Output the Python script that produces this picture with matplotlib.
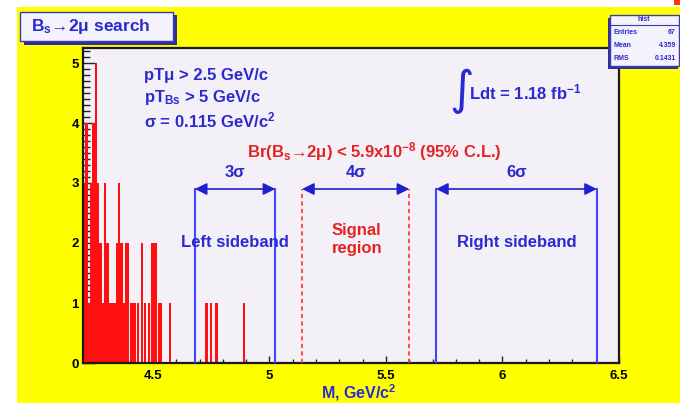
import matplotlib
matplotlib.use('Agg')
import matplotlib.pyplot as plt
from matplotlib.patches import Rectangle
from matplotlib.lines import Line2D
from matplotlib.ticker import MultipleLocator, FuncFormatter

plt.rcParams['font.family'] = ['Liberation Sans', 'DejaVu Sans']
plt.rcParams['mathtext.default'] = 'regular'

# dimuon candidates, 0.01 GeV/c^2 bins (bin centres and entries)
mass_centers = [4.205, 4.215, 4.225, 4.235, 4.245, 4.255, 4.265, 4.275, 4.285, 4.295,
                4.305, 4.315, 4.325, 4.335, 4.345, 4.355, 4.365, 4.375, 4.385, 4.395,
                4.405, 4.415, 4.425, 4.435, 4.455, 4.465, 4.485, 4.495, 4.505, 4.515,
                4.525, 4.535, 4.575, 4.730, 4.751, 4.773, 4.892]
entries = [3, 4, 1, 3, 4, 5, 3, 2, 1, 3,
           2, 1, 1, 1, 2, 3, 2, 1, 2, 2,
           1, 1, 1, 1, 2, 1, 1, 2, 2, 2,
           1, 1, 1, 1, 1, 1, 1]

# mass windows (GeV/c^2)
left_sideband = [4.68, 5.025]
signal_region = [5.14, 5.60]
right_sideband = [5.715, 6.405]
window_widths = ['3σ', '4σ', '6σ']
window_top = 2.9

stats_rows = [('Entries', '67'), ('Mean', '4.359'), ('RMS', '0.1431')]

W, H = 680, 403
BLUE = '#2a2ad0'
LINE_BLUE = '#4444ff'
RED = '#e62222'
FS = 12


def fx(px):
    return px / W


def fy(py):
    return 1 - py / H


fig = plt.figure(figsize=(W / 100, H / 100), dpi=100, facecolor='white')

# yellow canvas
fig.add_artist(Rectangle((fx(17), 0), fx(W - 17), fy(7),
                         transform=fig.transFigure, facecolor='#ffff00',
                         edgecolor='none', zorder=0))
fig.add_artist(Rectangle((fx(674), fy(5)), fx(6), 5 / H,
                         transform=fig.transFigure, facecolor='#ff3300',
                         edgecolor='none', zorder=0))

ax = fig.add_axes([fx(83), fy(363), fx(619 - 83), fy(48) - fy(363)])
ax.set_facecolor('#f3f1f7')
ax.set_xlim(4.2, 6.5)
ax.set_ylim(0, 5.25)

ax.bar(mass_centers, entries, width=0.009, color='#ff1010', edgecolor='none', zorder=2)

# window boundaries
for x in left_sideband + right_sideband:
    ax.plot([x, x], [0, window_top], color=LINE_BLUE, lw=1.5, zorder=3)
for x in signal_region:
    ax.plot([x, x], [0, window_top], color='#ff3030', lw=1.2, ls=(0, (2.5, 2)), zorder=3)

for (x0, x1), label in zip([left_sideband, signal_region, right_sideband], window_widths):
    ax.annotate('', xy=(x1, window_top), xytext=(x0, window_top),
                arrowprops=dict(arrowstyle='<|-|>', color='#2020d0', lw=1.2,
                                mutation_scale=18, shrinkA=0, shrinkB=0), zorder=4)
    ax.text((x0 + x1) / 2, window_top + 0.27, label, color=BLUE, fontsize=FS,
            fontweight='bold', ha='center', va='center')

ax.text(sum(left_sideband) / 2, 2.0, 'Left sideband', color=BLUE, fontsize=FS,
        fontweight='bold', ha='center', va='center')
ax.text(sum(right_sideband) / 2, 2.0, 'Right sideband', color=BLUE, fontsize=FS,
        fontweight='bold', ha='center', va='center')
ax.text(sum(signal_region) / 2 + 0.005, 2.05, 'Signal\nregion', color=RED, fontsize=FS,
        fontweight='bold', ha='center', va='center', linespacing=1.25)

# selection cuts
ax.text(0.114, 0.914, 'pTμ > 2.5 GeV/c', transform=ax.transAxes, color=BLUE,
        fontsize=FS, fontweight='bold', va='center')
ax.text(0.114, 0.844, 'pT$_{Bs}$ > 5 GeV/c', transform=ax.transAxes, color=BLUE,
        fontsize=FS, fontweight='bold', va='center')
ax.text(0.114, 0.771, 'σ = 0.115 GeV/c$^2$', transform=ax.transAxes, color=BLUE,
        fontsize=FS, fontweight='bold', va='center')

# integrated luminosity
ax.text(0.706, 0.865, r'$\int$', transform=ax.transAxes, color=BLUE,
        fontsize=24, ha='center', va='center')
ax.text(0.720, 0.858, 'Ldt = 1.18 fb$^{-1}$', transform=ax.transAxes, color=BLUE,
        fontsize=FS, fontweight='bold', va='center')

ax.text(0.543, 0.670, 'Br(B$_s$→2μ) < 5.9x10$^{-8}$ (95% C.L.)', transform=ax.transAxes,
        color=RED, fontsize=FS, fontweight='bold', ha='center', va='center')

ax.text(0.515, -0.095, 'M, GeV/c$^2$', transform=ax.transAxes, color=BLUE,
        fontsize=11.5, fontweight='bold', ha='center', va='center')

# axes, ticks
for s in ax.spines.values():
    s.set_linewidth(1.6)
    s.set_color('#1a1a1a')
ax.xaxis.set_major_locator(MultipleLocator(0.5))
ax.xaxis.set_minor_locator(MultipleLocator(0.1))
ax.yaxis.set_major_locator(MultipleLocator(1))
ax.yaxis.set_minor_locator(MultipleLocator(0.1))
ax.xaxis.set_major_formatter(FuncFormatter(lambda v, p: '%g' % v))
ax.tick_params(axis='both', which='both', direction='in', colors='#222222', width=1)
ax.tick_params(axis='y', which='major', length=9, pad=3)
ax.tick_params(axis='y', which='minor', length=5)
ax.tick_params(axis='x', which='major', length=5, pad=5)
ax.tick_params(axis='x', which='minor', length=3)
for lab in ax.get_xticklabels() + ax.get_yticklabels():
    lab.set_fontweight('bold')
    lab.set_fontsize(9.5)
    lab.set_color('black')

# title box with shadow
fig.add_artist(Rectangle((fx(24), fy(45)), fx(153), fy(15) - fy(45),
                         transform=fig.transFigure, facecolor='#30309a',
                         edgecolor='none', zorder=5))
fig.add_artist(Rectangle((fx(20), fy(41)), fx(153), fy(12) - fy(41),
                         transform=fig.transFigure, facecolor='#f4f2fa',
                         edgecolor='#3a3ac0', lw=1, zorder=6))
fig.text(fx(31), fy(26.5), 'B$_s$→2μ search', color=BLUE, fontsize=12.5,
         fontweight='bold', va='center', zorder=7)

# statistics box
fig.add_artist(Rectangle((fx(608), fy(69)), fx(70), fy(18) - fy(69),
                         transform=fig.transFigure, facecolor='#30309a',
                         edgecolor='none', zorder=5))
fig.add_artist(Rectangle((fx(610), fy(66)), fx(69), fy(15) - fy(66),
                         transform=fig.transFigure, facecolor='#f4f2fa',
                         edgecolor='#3a3ac0', lw=1, zorder=6))
fig.add_artist(Line2D([fx(610), fx(679)], [fy(24.5), fy(24.5)],
                      transform=fig.transFigure, color='#3a3ac0', lw=0.8, zorder=7))
fig.text(fx(644), fy(19.5), 'hist', color=BLUE, fontsize=5, fontweight='bold',
         ha='center', va='center', zorder=7)
for i, (name, val) in enumerate(stats_rows):
    yy = fy(33 + i * 12.5)
    fig.text(fx(613), yy, name, color=BLUE, fontsize=5, fontweight='bold',
             va='center', zorder=7)
    fig.text(fx(676), yy, val, color=BLUE, fontsize=5, fontweight='bold',
             ha='right', va='center', zorder=7)

fig.savefig('out.png', dpi=100, facecolor='white')
